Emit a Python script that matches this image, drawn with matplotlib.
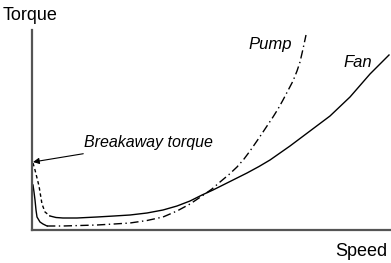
import matplotlib.pyplot as plt

# values (speed, torque in arbitrary units)
fan_start_speed = [1, 3, 5, 7, 8, 10, 13, 18]
fan_start_torque = [67, 60, 52, 44, 38, 26, 18, 14]
fan_speed = [18, 24, 31, 45, 65, 82, 98, 115, 131, 145, 158, 170, 181, 191,
             203, 215, 227, 238, 248, 258, 268, 278, 288, 298, 308, 318,
             328, 338, 348, 357]
fan_torque = [14, 12.5, 12, 12, 13, 14, 15, 17, 20, 24, 29, 35, 40, 45,
              51, 57, 63.5, 70, 77, 84, 91.5, 99, 106.5, 114, 123.5, 133,
              144.5, 156, 166, 175]

pump_start_speed = [1, 2, 3, 4, 5, 8, 11, 15]
pump_start_torque = [45, 38, 30, 20, 13, 8, 6, 4]
pump_speed = [15, 31, 48, 65, 82, 98, 115, 131, 145, 158, 170, 180, 188, 197,
              205, 212, 218, 227, 235, 241, 246, 251, 256, 261, 265, 268,
              271, 274]
pump_torque = [4, 4, 4.5, 5, 6, 7, 9.5, 13, 19, 26, 34, 41, 48, 55.5,
               63, 71, 79, 92, 104, 113, 121, 130, 139.5, 149, 159, 168,
               181, 195]

plt.rcParams["font.family"] = ["Liberation Sans", "DejaVu Sans"]

fig = plt.figure(figsize=(3.91, 2.63), dpi=100)
ax = fig.add_axes([32 / 391, 33 / 263, 359 / 391, 200 / 263])
ax.set_xlim(0, 359)
ax.set_ylim(0, 200)

ax.plot(fan_start_speed, fan_start_torque, color="black", lw=1, ls=(0, (2.5, 2)))
ax.plot(fan_speed, fan_torque, color="black", lw=1)
ax.plot(pump_start_speed, pump_start_torque, color="black", lw=1)
ax.plot(pump_speed, pump_torque, color="black", lw=1, ls=(0, (6, 2.5, 1, 2.5)))

for side in ["top", "right"]:
    ax.spines[side].set_visible(False)
for side in ["left", "bottom"]:
    ax.spines[side].set_color("#555555")
    ax.spines[side].set_linewidth(1.6)
ax.set_xticks([])
ax.set_yticks([])

fig.text(3 / 391, 1 - 15 / 263, "Torque", fontsize=13, va="center", ha="left")
fig.text(387 / 391, 1 - 252 / 263, "Speed", fontsize=13, va="center", ha="right")
ax.text(216, 186, "Pump", fontsize=12, style="italic", ha="left", va="center")
ax.text(311, 168, "Fan", fontsize=12, style="italic", ha="left", va="center")
ax.annotate("Breakaway torque", xy=(1, 68), xytext=(52, 87),
            fontsize=11.5, style="italic", ha="left", va="center",
            arrowprops=dict(arrowstyle="-|>", color="black", lw=0.8,
                            mutation_scale=9, shrinkA=2, shrinkB=0))

fig.savefig("out.png", dpi=100)
